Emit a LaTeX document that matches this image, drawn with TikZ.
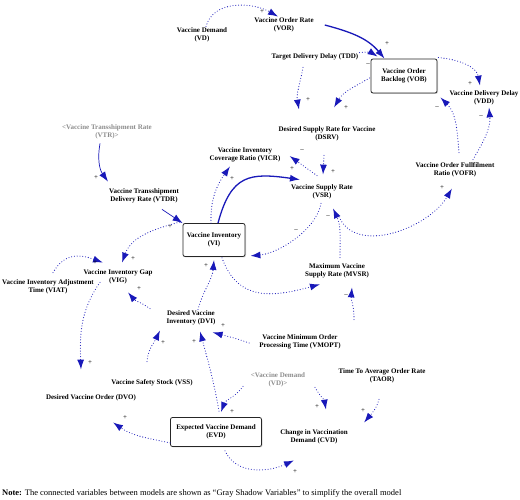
\documentclass[tikz,border=0pt]{standalone}
\usepackage{fontspec}
\setmainfont{Liberation Serif}
\usetikzlibrary{arrows.meta,shadows}
\definecolor{linkblue}{RGB}{25,25,185}
\definecolor{shadowgray}{RGB}{140,140,140}

\begin{document}
\begin{tikzpicture}
        [x=1pt,y=1pt,
        var/.style={align=center, font=\bfseries\fontsize{7}{8}\selectfont, inner sep=1pt},
        shadowvar/.style={var, text=shadowgray},
        stock/.style={var, draw=black!85, line width=0.8pt, rounded corners=2pt, fill=white,
            drop shadow={shadow xshift=1pt, shadow yshift=-1pt, opacity=0.3}},
        link/.style={linkblue, line width=1.1pt, line cap=round, dash pattern=on 0pt off 2.8pt,
            -{Latex[length=10pt,width=7pt]}},
        flow/.style={linkblue, line width=1.3pt, -{Latex[length=10pt,width=7pt]}},
        thinflow/.style={linkblue, line width=0.7pt, -{Latex[length=10pt,width=7pt]}},
        pol/.style={font=\fontsize{7}{7}\selectfont, inner sep=0pt}]
        \useasboundingbox (0,0) rectangle (520,500);

        % variables
        \node[var] (VD) at (202,465) {Vaccine Demand\\(VD)};
        \node[var] (VOR) at (284,475) {Vaccine Order Rate\\(VOR)};
        \node[var] (TDD) at (315,443) {Target Delivery Delay (TDD)};
        \node[stock, minimum width=66pt, minimum height=34pt] (VOB) at (404,424) {Vaccine Order\\Backlog (VOB)};
        \node[var] (VDD) at (484,402) {Vaccine Delivery Delay\\(VDD)};
        \node[var] (DSRV) at (327,366) {Desired Supply Rate for Vaccine\\(DSRV)};
        \node[var] (VOFR) at (455,330) {Vaccine Order Fullfilment\\Ratio (VOFR)};
        \node[shadowvar] (VTR) at (107,368) {<Vaccine Transshipment Rate\\(VTR)>};
        \node[var] (VICR) at (245,345) {Vaccine Inventory\\Coverage Ratio (VICR)};
        \node[var] (VSR) at (322,308) {Vaccine Supply Rate\\(VSR)};
        \node[var] (VTDR) at (144,304) {Vaccine Transshipment\\Delivery Rate (VTDR)};
        \node[stock, minimum width=62pt, minimum height=33pt] (VI) at (214,260) {Vaccine Inventory\\(VI)};
        \node[var] (VIG) at (118,223) {Vaccine Inventory Gap\\(VIG)};
        \node[var] (VIAT) at (48,213) {Vaccine Inventory Adjustment\\Time (VIAT)};
        \node[var] (MVSR) at (337,229) {Maximum Vaccine\\Supply Rate (MVSR)};
        \node[var] (DVI) at (191,182) {Desired Vaccine\\Inventory (DVI)};
        \node[var] (VMOPT) at (300,158) {Vaccine Minimum Order\\Processing Time (VMOPT)};
        \node[var] (VSS) at (152,117) {Vaccine Safety Stock (VSS)};
        \node[var] (DVO) at (91,102) {Desired Vaccine Order (DVO)};
        \node[var] (TAOR) at (382,124) {Time To Average Order Rate\\(TAOR)};
        \node[shadowvar] (VDs) at (278,120) {<Vaccine Demand\\(VD)>};
        \node[stock, minimum width=91pt, minimum height=29pt] (EVD) at (216,68) {Expected Vaccine Demand\\(EVD)};
        \node[var] (CVD) at (314,63) {Change in Vaccination\\Demand (CVD)};

        % order side
        \draw[link] ([shift={(4,0)}]VD.north) to[out=75,in=150] ([shift={(-6,0)}]VOR.north);
        \draw[flow] ([xshift=10pt]VOR.east) to[out=-15,in=130] ([xshift=14pt]VOB.north west);
        \draw[link] (TDD.north east) to[bend left=20] ([shift={(7,2)}]VOB.north west);
        \draw[link] ([shift={(1,1)}]VOB.north east) to[out=-5,in=100] ([shift={(-4,4)}]VDD.north);
        \draw[link] ([shift={(-12,-6)}]TDD.south) to[out=-100,in=100] ([shift={(-28,16)}]DSRV.north);
        \draw[link] ([shift={(-1,-2)}]VOB.west) to[out=-150,in=60] ([shift={(7,18)}]DSRV.north);
        \draw[link] ([shift={(4,9)}]VOFR.north) to[out=95,in=-45] ([shift={(3,-4)}]VOB.south east);
        \draw[link] ([shift={(18,2)}]VOFR.north) to[out=60,in=-85] ([shift={(5,-1)}]VDD.south);
        \draw[link] ([shift={(16,-14)}]VSR.south) to[out=-70,in=-120] ([shift={(-3,-10)}]VOFR.south);

        % supply side
        \draw[link] ([shift={(-3,-13)}]DSRV.south) -- ([shift={(1,9)}]VSR.north);
        \draw[link] ([shift={(-5,8)}]VSR.north) -- ([shift={(8,-1)}]VICR.east);
        \draw[link] ([shift={(-3,0)}]VI.north) to[out=92,in=-125] ([shift={(-15,-3)}]VICR.south);
        \draw[flow] ([shift={(4,0)}]VI.north) to[out=75,in=172,looseness=1.4] ([shift={(-22,4)}]VSR.north);
        \draw[thinflow] ([shift={(-7,-3)}]VTR.south) to[out=-100,in=125] ([shift={(-36,6)}]VTDR.north);
        \draw[thinflow] ([shift={(18,-5)}]VTDR.south) -- (VI.north west);
        \draw[link] ([shift={(-3,1)}]VI.north west) to[out=195,in=70] ([shift={(4,6)}]VIG.north);
        \draw[link] ([shift={(5,6)}]VIAT.north) to[out=60,in=160,looseness=1.2] ([shift={(-15,6)}]VIG.north);
        \draw[link] ([shift={(-41,1)}]DVI.north) to[out=145,in=-50] ([shift={(10,-7)}]VIG.south);
        \draw[link] ([shift={(-18,3)}]VIG.south) to[out=-125,in=92] ([shift={(-10,24)}]DVO.north);
        \draw[link] ([shift={(7,0)}]DVI.north) to[out=75,in=-95] ([shift={(0,-3)}]VI.south);
        \draw[link] ([shift={(8,-1)}]VI.south) to[out=-70,in=195,looseness=1.2] ([shift={(-17,-5)}]MVSR.south);
        \draw[link] ([shift={(-1,-3)}]VSR.south) to[out=-100,in=5,looseness=0.8] ([shift={(5,1)}]VI.south east);
        \draw[link] ([shift={(3,5)}]MVSR.north) to[out=90,in=-65] ([shift={(11,-8)}]VSR.south);
        \draw[link] ([shift={(54,14)}]VMOPT.north) to[out=88,in=-95] ([shift={(15,-8)}]MVSR.south);

        % demand side
        \draw[link] ([shift={(-9,-1)}]VMOPT.west) to[out=160,in=-15] ([shift={(-4,-6)}]DVI.south east);
        \draw[link] ([shift={(-5,17)}]VSS.north) to[out=85,in=-115] ([shift={(-31,-4)}]DVI.south);
        \draw[link] ([shift={(3,6)}]EVD.north) to[out=100,in=-75] ([shift={(9,-5)}]DVI.south);
        \draw[link] ([shift={(-35,2)}]VDs.south) to[out=-125,in=70] ([shift={(5,5)}]EVD.north);
        \draw[link] ([shift={(37,1)}]VDs.south) to[out=-60,in=100] ([shift={(12,19)}]CVD.north);
        \draw[link] ([shift={(-3,-15)}]TAOR.south) to[out=-105,in=50] ([shift={(50,6)}]CVD.north);
        \draw[link] ([shift={(0,4)}]EVD.south west) to[out=168,in=-35] ([shift={(22,-20)}]DVO.south);
        \draw[link] ([shift={(9,-4)}]EVD.south) to[out=-65,in=205] ([shift={(-20,-15)}]CVD.south);

        % polarities
        \node[pol] (sVDVOR) at (262,488) {+};
        \node[pol] (sVORVOB) at (387,456) {+};
        \node[pol] (sTDDVOB) at (368,435) {–};
        \node[pol] (sVOBVDD) at (470,416) {+};
        \node[pol] (sTDDDSRV) at (308,400) {+};
        \node[pol] (sVOBDSRV) at (346,392) {+};
        \node[pol] (sVOFRVOB) at (437,392) {–};
        \node[pol] (sVOFRVDD) at (481,383) {–};
        \node[pol] (sVSRVOFR) at (442,312) {+};
        \node[pol] (sDSRVVSR) at (333,328) {+};
        \node[pol] (sVSRVICR) at (302,349) {–};
        \node[pol] (sVIVICR) at (232,321) {+};
        \node[pol] (sVIVSR) at (292,331) {+};
        \node[pol] (sVTRVTDR) at (96,322) {+};
        \node[pol] (sVTDRVI) at (170,273) {+};
        \node[pol] (sVIVIG) at (133,241) {+};
        \node[pol] (sVIATVIG) at (95,237) {+};
        \node[pol] (sDVIVIG) at (139,211) {+};
        \node[pol] (sVIGDVO) at (90,137) {+};
        \node[pol] (sDVIVI) at (206,234) {+};
        \node[pol] (sVSRVI) at (296,269) {–};
        \node[pol] (sMVSRVSR) at (328,283) {–};
        \node[pol] (sVMOPTMVSR) at (346,204) {–};
        \node[pol] (sVMOPTDVI) at (223,174) {+};
        \node[pol] (sVSSDVI) at (163,157) {+};
        \node[pol] (sEVDDVI) at (194,158) {+};
        \node[pol] (sVDEVD) at (232,88) {+};
        \node[pol] (sVDCVD) at (317,93) {+};
        \node[pol] (sTAORCVD) at (363,89) {+};
        \node[pol] (sEVDDVO) at (125,82) {+};
        \node[pol] (sEVDCVD) at (295,28) {+};

        \node[anchor=west, inner sep=0pt, font=\fontsize{8.5}{10}\selectfont] (note) at (2,7)
            {\textbf{Note:} The connected variables between models are shown as “Gray Shadow Variables” to simplify the overall model};
    \end{tikzpicture}
\end{document}
